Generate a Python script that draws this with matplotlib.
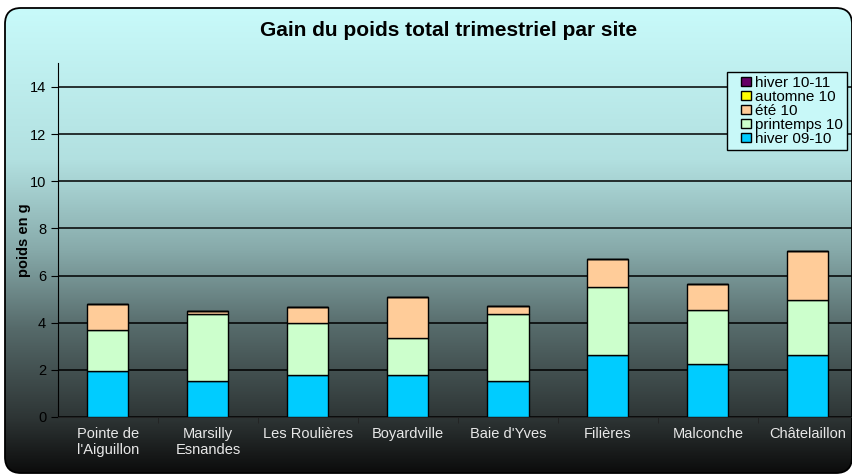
import numpy as np
import matplotlib
matplotlib.use("Agg")
import matplotlib.pyplot as plt
from matplotlib.patches import FancyBboxPatch, Patch, Rectangle
from matplotlib.legend_handler import HandlerPatch
from matplotlib.colors import LinearSegmentedColormap

plt.rcParams['font.family'] = ['Liberation Sans', 'DejaVu Sans']

# data
sites = ["Pointe de\nl'Aiguillon", "Marsilly\nEsnandes", "Les Roulières", "Boyardville",
         "Baie d'Yves", "Filières", "Malconche", "Châtelaillon"]
hiver_09_10 = [1.96, 1.54, 1.77, 1.77, 1.54, 2.62, 2.26, 2.62]
printemps_10 = [1.73, 2.82, 2.23, 1.57, 2.83, 2.88, 2.28, 2.34]
ete_10 = [1.10, 0.12, 0.68, 1.74, 0.35, 1.22, 1.10, 2.10]
automne_10 = [0, 0, 0, 0, 0, 0, 0, 0]
hiver_10_11 = [0, 0, 0, 0, 0, 0, 0, 0]

series = [("hiver 09-10", hiver_09_10, "#00CCFF"),
          ("printemps 10", printemps_10, "#CCFFCC"),
          ("été 10", ete_10, "#FFCC99"),
          ("automne 10", automne_10, "#FFFF00"),
          ("hiver 10-11", hiver_10_11, "#660066")]

W, H = 853, 475
fig = plt.figure(figsize=(W / 100, H / 100), dpi=100)
fig.patch.set_facecolor("white")

# background: rounded panel with vertical gradient
bg = fig.add_axes([0, 0, 1, 1])
bg.set_xlim(0, W)
bg.set_ylim(0, H)
bg.axis("off")
stops = [(0.0, (200, 250, 250)), (152, (178, 224, 224)), (242, (135, 170, 170)),
         (322, (85, 105, 105)), (412, (45, 52, 52)), (465, (12, 12, 12))]
cmap = LinearSegmentedColormap.from_list(
    "bgc", [(p / 465, tuple(c / 255 for c in col)) for p, col in stops])
grad = np.linspace(0, 1, 256).reshape(-1, 1)
img = bg.imshow(grad, cmap=cmap, aspect="auto", extent=(5, 852, 2, 467), origin="upper")
panel = FancyBboxPatch((5, 2), 847, 465, boxstyle="round,pad=0,rounding_size=16",
                       facecolor="none", edgecolor="black", linewidth=1.3)
bg.add_patch(panel)
img.set_clip_path(panel)

# main chart
ax = fig.add_axes([58 / W, 58 / H, 800 / W, 353.6 / H])
ax.set_facecolor("none")
x = np.arange(len(sites))
bottom = np.zeros(len(sites))
for name, vals, col in series:
    ax.bar(x, vals, 0.41, bottom=bottom, color=col, edgecolor="black",
           linewidth=1, zorder=3)
    bottom += np.array(vals)

ax.set_xlim(-0.5, 7.5)
ax.set_ylim(0, 15)
ax.set_yticks(range(0, 15, 2))
ax.yaxis.grid(True, color="black", linewidth=1.1)
ax.set_axisbelow(True)
for s in ["top", "right"]:
    ax.spines[s].set_visible(False)
ax.spines["left"].set_color("black")
ax.spines["bottom"].set_color("#222222")
ax.tick_params(axis="y", direction="out", length=5, labelsize=10.5, colors="black")
ax.set_xticks(x)
ax.set_xticklabels(sites, fontsize=10.5, color="#e8e8e8")
ax.tick_params(axis="x", length=0, pad=7)
ax.set_xticks(np.arange(0.5, 7.5, 1), minor=True)
ax.tick_params(axis="x", which="minor", length=4, color="#222222")
ax.set_ylabel("poids en g", fontsize=10.5, fontweight="bold", labelpad=-1)

fig.text(449 / W, 1 - 31 / H, "Gain du poids total trimestriel par site",
         ha="center", va="center", fontsize=15, fontweight="bold")


def square(legend, orig_handle, xdescent, ydescent, width, height, fontsize):
    s = 7
    return Rectangle((-xdescent + width - s, -ydescent + (height - s) / 2), s, s)


handles = [Patch(facecolor=col, edgecolor="black", label=name)
           for name, vals, col in series[::-1]]
fig.legend(handles=handles, loc="upper left", bbox_to_anchor=(727 / W, 1 - 72 / H),
           fontsize=11, frameon=True, fancybox=False, edgecolor="black",
           facecolor="#C8F8F8", framealpha=1, labelspacing=0,
           handlelength=1.3, handleheight=0.7, handletextpad=0.3,
           borderpad=0.25, borderaxespad=0,
           handler_map={Patch: HandlerPatch(patch_func=square)})

fig.savefig("out.png", dpi=100)
